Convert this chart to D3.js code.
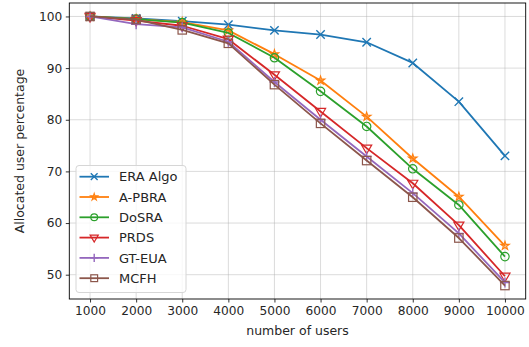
<!DOCTYPE html>
<html><head><meta charset="utf-8">
<script src="https://cdn.jsdelivr.net/npm/d3@7"></script>
<style>body{margin:0;background:#fff}svg{display:block}text{font-family:"DejaVu Sans",sans-serif;fill:#262626}</style>
</head><body><svg id="c" width="529" height="347"></svg>
<script>
const users = [1000,2000,3000,4000,5000,6000,7000,8000,9000,10000];
const seriesNames = ["ERA Algo","A-PBRA","DoSRA","PRDS","GT-EUA","MCFH"];
const eraAlgo = [100,99.6,99.1,98.4,97.3,96.5,95.0,91.0,83.5,73.0];
const aPbra   = [100,99.5,98.9,97.3,92.7,87.6,80.6,72.5,65.1,55.6];
const dosra   = [100,99.5,98.8,96.8,92.0,85.5,78.7,70.5,63.5,53.5];
const prds    = [100,99.2,98.2,95.6,88.7,81.6,74.5,67.7,59.6,49.7];
const gtEua   = [100,98.5,97.9,95.1,87.3,80.0,72.9,65.8,58.0,48.5];
const mcfh    = [100,99.4,97.4,94.8,86.8,79.3,72.1,65.0,57.1,47.9];
const yTicks = [50,60,70,80,90,100];
const xLabel = "number of users";
const yLabel = "Allocated user percentage";

const seriesVals = [eraAlgo,aPbra,dosra,prds,gtEua,mcfh];
const colors = ["#1f77b4","#ff7f0e","#2ca02c","#d62728","#9467bd","#8c564b"];
const markers = ["x","star","circle","tri","plus","square"];

const L=69.3,R=525.7,T=3,B=299;
const svg=d3.select("#c");
const xmin=d3.min(users),xmax=d3.max(users),xm=(xmax-xmin)*0.05;
const allV=seriesVals.flat();
const ymin=d3.min(allV),ymax=d3.max(allV),ym=(ymax-ymin)*0.05;
const x=d3.scaleLinear().domain([xmin-xm,xmax+xm]).range([L,R]);
const y=d3.scaleLinear().domain([ymin-ym,ymax+ym]).range([B,T]);

// grid
const g=svg.append("g");
g.selectAll(".gx").data(users).enter().append("line")
 .attr("x1",d=>x(d)).attr("x2",d=>x(d)).attr("y1",T).attr("y2",B)
 .attr("stroke","#b0b0b0").attr("stroke-opacity",0.45).attr("stroke-width",1);
g.selectAll(".gy").data(yTicks).enter().append("line")
 .attr("y1",d=>y(d)).attr("y2",d=>y(d)).attr("x1",L).attr("x2",R)
 .attr("stroke","#b0b0b0").attr("stroke-opacity",0.45).attr("stroke-width",1);

// axes
const xAxis=d3.axisBottom(x).tickValues(users).tickFormat(d3.format("d")).tickSize(3.5).tickPadding(3.5);
const yAxis=d3.axisLeft(y).tickValues(yTicks).tickFormat(d3.format("d")).tickSize(3.5).tickPadding(3.5);
const ax=svg.append("g").attr("transform",`translate(0,${B})`).call(xAxis);
const ay=svg.append("g").attr("transform",`translate(${L},0)`).call(yAxis);
[ax,ay].forEach(a=>{a.select(".domain").remove();
 a.selectAll("line").attr("stroke","#000").attr("stroke-width",0.8);
 a.selectAll("text").attr("font-size",12.2).attr("fill","#262626").style("font-family","DejaVu Sans");});

function marker(sel,type,color,s){
 const r=s;
 if(type==="x"){sel.append("path").attr("d",`M${-r},${-r}L${r},${r}M${-r},${r}L${r},${-r}`).attr("stroke",color).attr("stroke-width",1.4).attr("fill","none");}
 else if(type==="plus"){sel.append("path").attr("d",`M${-r*1.2},0L${r*1.2},0M0,${-r*1.2}L0,${r*1.2}`).attr("stroke",color).attr("stroke-width",1.4).attr("fill","none");}
 else if(type==="circle"){sel.append("circle").attr("r",r).attr("fill","none").attr("stroke",color).attr("stroke-width",1.2);}
 else if(type==="square"){sel.append("rect").attr("x",-r).attr("y",-r).attr("width",2*r).attr("height",2*r).attr("fill","none").attr("stroke",color).attr("stroke-width",1.2);}
 else if(type==="tri"){const h=r*1.2;sel.append("path").attr("d",`M${-h},${-h*0.6}L${h},${-h*0.6}L0,${h*1.1}Z`).attr("fill","none").attr("stroke",color).attr("stroke-width",1.2);}
 else if(type==="star"){sel.append("path").attr("d",d3.symbol(d3.symbolStar,r*r*1.3)()).attr("fill",color).attr("fill-opacity",0.4).attr("stroke",color).attr("stroke-width",1.1);}
}

const line=d3.line().x((d,i)=>x(users[i])).y(d=>y(d));
seriesVals.forEach((vals,si)=>{
 const sg=svg.append("g");
 sg.append("path").attr("d",line(vals)).attr("fill","none").attr("stroke",colors[si]).attr("stroke-width",1.8).attr("stroke-linejoin","round");
 vals.forEach((v,i)=>{
  const mg=sg.append("g").attr("transform",`translate(${x(users[i])},${y(v)})`);
  marker(mg,markers[si],colors[si],4.2);
 });
});

// frame
svg.append("rect").attr("x",L).attr("y",T).attr("width",R-L).attr("height",B-T).attr("fill","none").attr("stroke","#000").attr("stroke-width",0.9);

// labels
svg.append("text").attr("x",(L+R)/2).attr("y",335).attr("text-anchor","middle").attr("font-size",12.5).text(xLabel);
svg.append("text").attr("transform",`translate(24,${(T+B)/2}) rotate(-90)`).attr("text-anchor","middle").attr("font-size",12.5).text(yLabel);

// legend
const lg=svg.append("g");
lg.append("rect").attr("x",76).attr("y",165.5).attr("width",110).attr("height",127).attr("rx",3)
 .attr("fill","#fff").attr("fill-opacity",0.8).attr("stroke","#d6d6d6").attr("stroke-width",1);
seriesNames.forEach((n,i)=>{
 const yy=176.7+i*20.3;
 lg.append("line").attr("x1",79.5).attr("x2",109).attr("y1",yy).attr("y2",yy).attr("stroke",colors[i]).attr("stroke-width",1.8);
 const mg=lg.append("g").attr("transform",`translate(94.2,${yy})`);
 marker(mg,markers[i],colors[i],3.4);
 lg.append("text").attr("x",119).attr("y",yy).attr("dy","0.36em").attr("font-size",13).text(n);
});
</script></body></html>
